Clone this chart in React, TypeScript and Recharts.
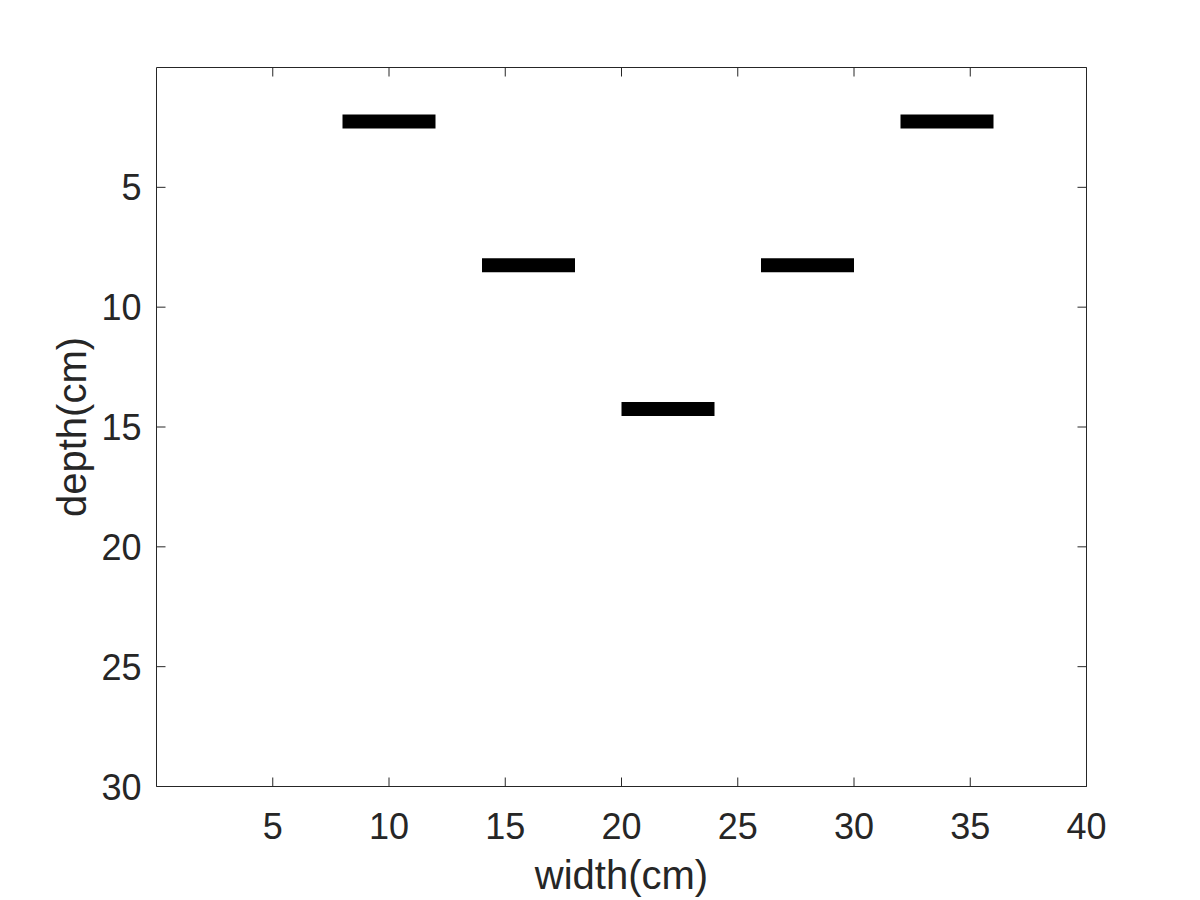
import { LineChart, Line, XAxis, YAxis } from 'recharts'

const barStart = [8, 14, 20, 26, 32]
const barEnd = [12, 18, 24, 30, 36]
const barDepth = [2.25, 8.25, 14.25, 8.25, 2.25]

const xTicks = [5, 10, 15, 20, 25, 30, 35, 40]
const yTicks = [5, 10, 15, 20, 25, 30]

const INK = '#262626'
const FONT = '"Liberation Sans", Arial, Helvetica, sans-serif'

const bars = barStart.map((s, i) => [
  { x: s, y: barDepth[i] },
  { x: barEnd[i], y: barDepth[i] },
])

// ticks point inward, like matlab's default box
function BottomTick({ x, y, payload }: any) {
  return (
    <g>
      <line x1={x} x2={x} y1={y} y2={y - 9} stroke={INK} strokeWidth={1} />
      <text x={x} y={y + 52} textAnchor="middle" fill={INK} fontSize={36} fontFamily={FONT}>
        {payload.value}
      </text>
    </g>
  )
}

function LeftTick({ x, y, payload }: any) {
  return (
    <g>
      <line x1={x} x2={x + 9} y1={y} y2={y} stroke={INK} strokeWidth={1} />
      <text x={x - 15} y={y + 13} textAnchor="end" fill={INK} fontSize={36} fontFamily={FONT}>
        {payload.value}
      </text>
    </g>
  )
}

function TopTick({ x, y }: any) {
  return <line x1={x} x2={x} y1={y} y2={y + 9} stroke={INK} strokeWidth={1} />
}

function RightTick({ x, y }: any) {
  return <line x1={x} x2={x - 9} y1={y} y2={y} stroke={INK} strokeWidth={1} />
}

function XLabel({ viewBox }: any) {
  const cx = viewBox.x + viewBox.width / 2
  return (
    <text x={cx} y={889} textAnchor="middle" fill={INK} fontSize={40} fontFamily={FONT}>
      width(cm)
    </text>
  )
}

function YLabel({ viewBox }: any) {
  const cx = 86
  const cy = viewBox.y + viewBox.height / 2
  return (
    <text x={cx} y={cy} textAnchor="middle" fill={INK} fontSize={40} fontFamily={FONT}
          transform={`rotate(-90, ${cx}, ${cy})`}>
      depth(cm)
    </text>
  )
}

export default function App() {
  return (
    <div style={{ position: 'absolute', left: 0, top: 0, width: 1200, height: 900, background: '#fff' }}>
      <LineChart width={1200} height={900} margin={{ top: 67.5, right: 113.5, bottom: 0, left: 0.5 }}>
        <XAxis xAxisId={0} dataKey="x" type="number" domain={[0, 40]} ticks={xTicks} allowDataOverflow
               height={113.5} tickSize={0} tickMargin={0} tickLine={false} axisLine={{ stroke: INK }}
               tick={<BottomTick />} interval={0} label={<XLabel />} />
        <XAxis xAxisId="top" dataKey="x" type="number" domain={[0, 40]} ticks={xTicks} allowDataOverflow
               orientation="top" mirror tick={<TopTick />} tickSize={0} tickMargin={0} tickLine={false}
               axisLine={{ stroke: INK }} interval={0} height={30} />
        <YAxis yAxisId={0} type="number" domain={[0, 30]} ticks={yTicks} reversed allowDataOverflow
               width={156} tickSize={0} tickMargin={0} tickLine={false} axisLine={{ stroke: INK }}
               tick={<LeftTick />} interval={0} label={<YLabel />} />
        <YAxis yAxisId="right" type="number" domain={[0, 30]} ticks={yTicks} reversed allowDataOverflow
               orientation="right" mirror tick={<RightTick />} tickSize={0} tickMargin={0} tickLine={false}
               axisLine={{ stroke: INK }} interval={0} width={30} />
        {bars.map((d, i) => (
          <Line key={i} data={d} dataKey="y" xAxisId={0} yAxisId={0} type="linear"
                stroke="#000" strokeWidth={14} dot={false} activeDot={false}
                isAnimationActive={false} />
        ))}
      </LineChart>
    </div>
  )
}
